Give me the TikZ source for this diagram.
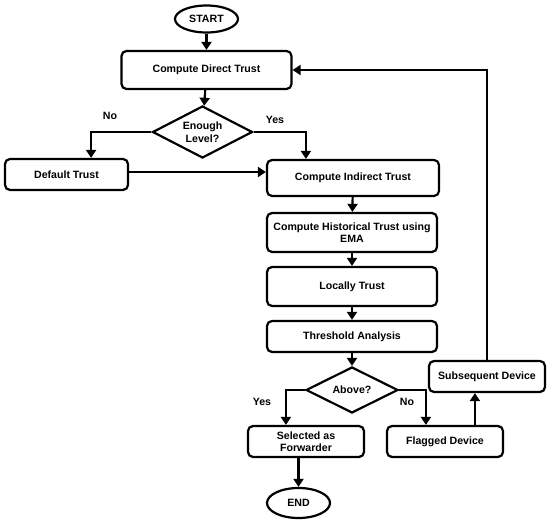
\documentclass[tikz,border=0pt]{standalone}
\usepackage{fontspec}
\setmainfont{Liberation Sans}
\usetikzlibrary{shapes.geometric,arrows.meta,calc}
\begin{document}
\begin{tikzpicture}[x=1pt,y=-1pt,
  every node/.style={font=\fontsize{10.6}{12.5}\selectfont\bfseries},
  box/.style={draw,line width=2.2pt,rounded corners=5pt,align=center,inner sep=0pt},
  term/.style={draw,line width=2.2pt,ellipse,inner sep=0pt},
  dec/.style={draw,line width=2.2pt,diamond,aspect=2,inner sep=0pt,align=center},
  conn/.style={line width=2.2pt,-{Triangle[length=8pt,width=10pt]}},
  lbl/.style={inner sep=0pt}]
\useasboundingbox (0,0) rectangle (550,524);
\node[term,minimum width=63,minimum height=27] (start) at (206.5,19) {START};
\node[box,minimum width=170,minimum height=38] (cdt) at (206.5,70) {Compute Direct Trust};
\node[dec,minimum width=100,minimum height=52] (d1) at (202.5,132) {Enough\\Level?};
\node[box,minimum width=123,minimum height=31] (dt) at (66.5,174.5) {Default Trust};
\node[box,minimum width=172,minimum height=36] (cit) at (353,178) {Compute Indirect Trust};
\node[box,minimum width=170,minimum height=39] (cht) at (352,232.5) {Compute Historical Trust using\\EMA};
\node[box,minimum width=170,minimum height=39] (lt) at (352,286.5) {Locally Trust};
\node[box,minimum width=170,minimum height=31] (ta) at (352,336.5) {Threshold Analysis};
\node[dec,minimum width=92,minimum height=46] (d2) at (352,390) {Above?};
\node[box,minimum width=116,minimum height=31] (sf) at (306,441.5) {Selected as\\Forwarder};
\node[box,minimum width=116,minimum height=31] (fd) at (445,441.5) {Flagged Device};
\node[box,minimum width=116,minimum height=31] (sd) at (487,376.5) {Subsequent Device};
\node[term,minimum width=63,minimum height=30] (end) at (298.5,503) {END};
\node[lbl] (no1) at (110,116) {No};
\node[lbl] (yes1) at (275,120) {Yes};
\node[lbl] (yes2) at (262,402) {Yes};
\node[lbl] (no2) at (407,402) {No};
\coordinate (fdup) at ($(fd.north west)+(89,0)$);
\coordinate (cityes) at ($(cit.north west)+(40,0)$);
\coordinate (dtno) at ($(dt.north east)+(-38,0)$);
\coordinate (sfyes) at ($(sf.north west)+(39,0)$);
\coordinate (fdno) at ($(fd.north west)+(40,0)$);
\draw[conn] (start) -- (cdt);
\draw[conn] (cdt) -- (d1);
\draw[conn] (d1.east) -| (cityes);
\draw[conn] (d1.west) -| (dtno);
\draw[conn] ([yshift=2.5pt]dt.east) -- ([yshift=2.5pt]dt.east -| cit.west);
\draw[conn] (cit) -- (cht);
\draw[conn] (cht) -- (lt);
\draw[conn] (lt) -- (ta);
\draw[conn] (ta) -- (d2);
\draw[conn] (d2.west) -| (sfyes);
\draw[conn] (d2.east) -| (fdno);
\draw[conn] (fdup) -- (fdup |- sd.south);
\draw[conn] (sd.north) |- (cdt.east);
\draw[conn] (end.north |- sf.south) -- (end.north);
\end{tikzpicture}
\end{document}
